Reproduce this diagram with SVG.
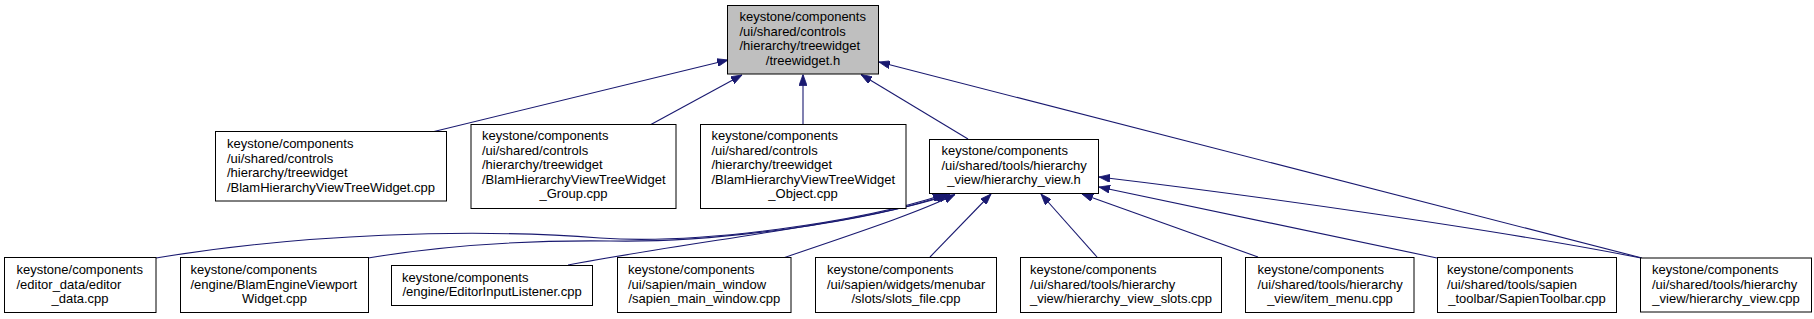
<svg xmlns="http://www.w3.org/2000/svg" width="1814" height="319" viewBox="0 0 1814 319">
<style>
.box{fill:#fff;stroke:#000;stroke-width:1}
.root{fill:#bfbfbf;stroke:#000;stroke-width:1}
text{font-family:"Liberation Sans",Arial,sans-serif;font-size:13px;fill:#000}
.c{text-anchor:middle}
.e{fill:none;stroke:#191970;stroke-width:1.1}
</style>
<defs>
<marker id="ah" markerUnits="userSpaceOnUse" viewBox="0 0 11 8" refX="11" refY="4" markerWidth="11" markerHeight="8" orient="auto">
<path d="M0,0 L11,4 L0,8 z" fill="#191970" stroke="#191970" stroke-width="0.8"/>
</marker>
</defs>
<rect width="1814" height="319" fill="#fff"/>
<g id="edges">
<path class="e" marker-end="url(#ah)" d="M432,132 L728,60"/>
<path class="e" marker-end="url(#ah)" d="M650,125 L742,75"/>
<path class="e" marker-end="url(#ah)" d="M803,125 L803,74.5"/>
<path class="e" marker-end="url(#ah)" d="M968,139 L861,74.5"/>
<path class="e" marker-end="url(#ah)" d="M1642,258 L879,62"/>
<path class="e" marker-end="url(#ah)" d="M156,258 C300,234 470,228 600,238 C700,245 860,222 944,194.5"/>
<path class="e" marker-end="url(#ah)" d="M368,258 C440,246 520,240 610,241 C710,243 865,223 947,194.5"/>
<path class="e" marker-end="url(#ah)" d="M568,265 C700,240 870,222 950,194.5"/>
<path class="e" marker-end="url(#ah)" d="M783,258 C850,235 915,214 955,194.5"/>
<path class="e" marker-end="url(#ah)" d="M930,257 L991,194"/>
<path class="e" marker-end="url(#ah)" d="M1097,257 L1041,194"/>
<path class="e" marker-end="url(#ah)" d="M1258,257 L1082,194"/>
<path class="e" marker-end="url(#ah)" d="M1437,258 L1099,187"/>
<path class="e" marker-end="url(#ah)" d="M1641,258 C1500,230 1250,195 1099,177"/>
</g>
<g id="root">
<rect class="root" x="727.5" y="5.5" width="151" height="68.5"/>
<text x="739.5" y="21">keystone/components</text>
<text x="739.5" y="35.5">/ui/shared/controls</text>
<text x="739.5" y="50">/hierarchy/treewidget</text>
<text class="c" x="803" y="64.5">/treewidget.h</text>
</g>
<g id="n_treewidget_cpp">
<rect class="box" x="215.5" y="131.5" width="231" height="69.5"/>
<text x="227" y="148">keystone/components</text>
<text x="227" y="162.5">/ui/shared/controls</text>
<text x="227" y="177">/hierarchy/treewidget</text>
<text class="c" x="331" y="191.5">/BlamHierarchyViewTreeWidget.cpp</text>
</g>
<g id="n_group">
<rect class="box" x="471" y="124.5" width="205" height="84"/>
<text x="482" y="140">keystone/components</text>
<text x="482" y="154.5">/ui/shared/controls</text>
<text x="482" y="169">/hierarchy/treewidget</text>
<text x="482" y="183.5">/BlamHierarchyViewTreeWidget</text>
<text class="c" x="573.5" y="198">_Group.cpp</text>
</g>
<g id="n_object">
<rect class="box" x="700.5" y="124.5" width="205.5" height="84"/>
<text x="711.5" y="140">keystone/components</text>
<text x="711.5" y="154.5">/ui/shared/controls</text>
<text x="711.5" y="169">/hierarchy/treewidget</text>
<text x="711.5" y="183.5">/BlamHierarchyViewTreeWidget</text>
<text class="c" x="803" y="198">_Object.cpp</text>
</g>
<g id="n_hview_h">
<rect class="box" x="929.5" y="139.5" width="169" height="54"/>
<text x="941.5" y="155">keystone/components</text>
<text x="941.5" y="169.5">/ui/shared/tools/hierarchy</text>
<text class="c" x="1014" y="184">_view/hierarchy_view.h</text>
</g>
<g id="n_editor_data">
<rect class="box" x="4.5" y="257.5" width="151.5" height="55"/>
<text x="16.5" y="274">keystone/components</text>
<text x="16.5" y="288.5">/editor_data/editor</text>
<text class="c" x="80" y="303">_data.cpp</text>
</g>
<g id="n_viewport">
<rect class="box" x="180.5" y="257.5" width="188" height="55"/>
<text x="190.5" y="274">keystone/components</text>
<text x="190.5" y="288.5">/engine/BlamEngineViewport</text>
<text class="c" x="274.5" y="303">Widget.cpp</text>
</g>
<g id="n_input">
<rect class="box" x="391.5" y="265.5" width="201" height="40"/>
<text x="402" y="281.5">keystone/components</text>
<text class="c" x="492" y="296">/engine/EditorInputListener.cpp</text>
</g>
<g id="n_main_window">
<rect class="box" x="617.5" y="257.5" width="173.5" height="55"/>
<text x="628" y="274">keystone/components</text>
<text x="628" y="288.5">/ui/sapien/main_window</text>
<text class="c" x="704.3" y="303">/sapien_main_window.cpp</text>
</g>
<g id="n_slots_file">
<rect class="box" x="815.5" y="257.5" width="181" height="55"/>
<text x="827" y="274">keystone/components</text>
<text x="827" y="288.5">/ui/sapien/widgets/menubar</text>
<text class="c" x="906" y="303">/slots/slots_file.cpp</text>
</g>
<g id="n_hview_slots">
<rect class="box" x="1020.5" y="257.5" width="201" height="55"/>
<text x="1030" y="274">keystone/components</text>
<text x="1030" y="288.5">/ui/shared/tools/hierarchy</text>
<text class="c" x="1121" y="303">_view/hierarchy_view_slots.cpp</text>
</g>
<g id="n_item_menu">
<rect class="box" x="1245.5" y="257.5" width="168.5" height="55"/>
<text x="1257.5" y="274">keystone/components</text>
<text x="1257.5" y="288.5">/ui/shared/tools/hierarchy</text>
<text class="c" x="1330" y="303">_view/item_menu.cpp</text>
</g>
<g id="n_toolbar">
<rect class="box" x="1437.5" y="257.5" width="179" height="55"/>
<text x="1447" y="274">keystone/components</text>
<text x="1447" y="288.5">/ui/shared/tools/sapien</text>
<text class="c" x="1527" y="303">_toolbar/SapienToolbar.cpp</text>
</g>
<g id="n_hview_cpp">
<rect class="box" x="1640.5" y="258" width="171" height="54"/>
<text x="1652" y="274">keystone/components</text>
<text x="1652" y="288.5">/ui/shared/tools/hierarchy</text>
<text class="c" x="1726" y="303">_view/hierarchy_view.cpp</text>
</g>
</svg>
